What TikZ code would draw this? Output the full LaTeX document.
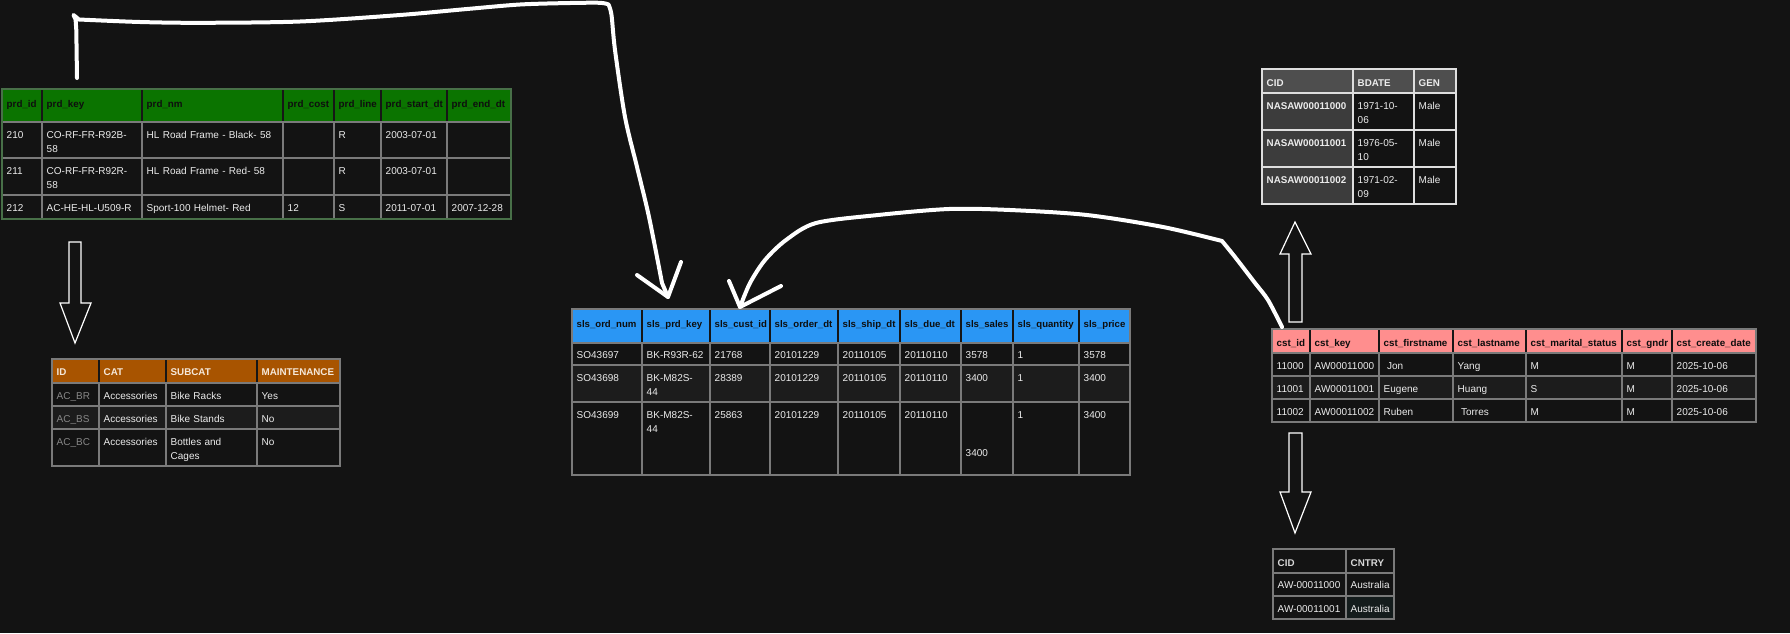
\documentclass[tikz,border=0pt]{standalone}
\usepackage{fontspec}
\setmainfont{Liberation Sans}
\usetikzlibrary{calc}
\hyphenpenalty=10000
\exhyphenpenalty=10000

\definecolor{bg}{RGB}{19,19,19}
\definecolor{gridc}{RGB}{122,122,122}
\definecolor{hsep}{RGB}{22,22,22}
\definecolor{txt}{RGB}{236,236,236}
\definecolor{dimtxt}{RGB}{135,135,135}
\definecolor{hdtxt}{RGB}{14,14,14}
\definecolor{prdgreen}{RGB}{11,116,0}
\definecolor{prdedge}{RGB}{72,112,72}
\definecolor{catorange}{RGB}{168,84,0}
\definecolor{cathd}{RGB}{245,232,218}
\definecolor{slsblue}{RGB}{42,150,244}
\definecolor{cstpink}{RGB}{255,142,142}
\definecolor{ciddark}{RGB}{78,78,78}
\definecolor{cidcol}{RGB}{60,60,60}
\definecolor{cidedge}{RGB}{222,222,222}
\definecolor{rowalt}{RGB}{28,28,28}
\definecolor{cntryhd}{RGB}{215,215,215}
\definecolor{cntryalt}{RGB}{20,28,28}

\tikzset{
  cellbase/.style={anchor=north west, inner xsep=4.5pt, inner ysep=0pt, align=left,
    font=\fontsize{10}{14}\selectfont, text=txt, fill=bg},
  hd/.style={font=\fontsize{9.8}{14}\selectfont\bfseries, text=hdtxt},
  gl/.style={draw=gridc, line width=1.8pt},
  hs/.style={draw=hsep, line width=2pt},
  cl/.style={draw=cidedge, line width=2pt},
  sk/.style={draw=white, line width=4pt, line cap=round, line join=round},
  hollow/.style={draw=white, line width=1.2pt, fill=bg, line join=miter},
}

% #1 style, #2 name, #3 x0, #4 y0, #5 x1, #6 y1, #7 baseline offset, #8 text
\newcommand\mycell[8]{%
  \pgfmathsetmacro\mycw{#5-#3-9}%
  \pgfmathsetmacro\mycd{#6-#4-#7}%
  \node[cellbase,#1,text width=\mycw pt,text height=#7pt,text depth=\mycd pt] (#2) at (#3,#4) {#8};%
}
% #1 column array, #2 style, #3 name prefix, #4 y0, #5 y1, #6 baseline offset, #7 cells
\newcommand\myrow[7]{%
  \foreach \ctext [count=\ci] in {#7} {%
    \pgfmathsetmacro\xa{#1[\ci-1]}%
    \pgfmathsetmacro\xb{#1[\ci]}%
    \mycell{#2}{#3\ci}{\xa}{#4}{\xb}{#5}{#6}{\ctext}%
  }%
}

\begin{document}
\begin{tikzpicture}[x=1pt,y=-1pt]
\useasboundingbox (0,0) rectangle (1790,633);
\fill[bg] (0,0) rectangle (1790,633);

% ---------------- product table ----------------
\def\Pcols{{2,42,142,283,334,381,447,511}}
\myrow{\Pcols}{hd,fill=prdgreen}{P-h}{89}{122}{18.5}{{prd\_id},{prd\_key},{prd\_nm},{prd\_cost},{prd\_line},{prd\_start\_dt},{prd\_end\_dt}}
\myrow{\Pcols}{}{P-a}{122}{158}{16.3}{{210},{CO-RF-FR-R92B-\\58},{HL Road Frame - Black- 58},{},{R},{2003-07-01},{}}
\myrow{\Pcols}{}{P-b}{158}{195}{16.3}{{211},{CO-RF-FR-R92R-\\58},{HL Road Frame - Red- 58},{},{R},{2003-07-01},{}}
\myrow{\Pcols}{}{P-c}{195}{219}{16.3}{{212},{AC-HE-HL-U509-R},{Sport-100 Helmet- Red},{12},{S},{2011-07-01},{2007-12-28}}
\foreach \x in {42,142,283,334,381,447} {\draw[hs] (\x,89) -- (\x,122); \draw[gl] (\x,122) -- (\x,219);}
\foreach \y in {122,158,195} \draw[gl] (2,\y) -- (511,\y);
\draw[draw=prdedge, line width=2pt] (2,89) rectangle (511,219);

% ---------------- category table ----------------
\def\Ccols{{52,99,166,257,340}}
\myrow{\Ccols}{hd,fill=catorange,text=cathd}{C-h}{359}{383}{16.5}{{ID},{CAT},{SUBCAT},{MAINTENANCE}}
\myrow{\Ccols}{}{C-a}{383}{406}{16.3}{{\color{dimtxt}AC\_BR},{Accessories},{Bike Racks},{Yes}}
\myrow{\Ccols}{fill=rowalt}{C-b}{406}{429}{16.3}{{\color{dimtxt}AC\_BS},{Accessories},{Bike Stands},{No}}
\myrow{\Ccols}{}{C-c}{429}{466}{16.3}{{\color{dimtxt}AC\_BC},{Accessories},{Bottles and\\Cages},{No}}
\foreach \x in {99,166,257} {\draw[hs] (\x,359) -- (\x,383); \draw[gl] (\x,383) -- (\x,466);}
\foreach \y in {383,406,429} \draw[gl] (52,\y) -- (340,\y);
\draw[gl] (52,359) rectangle (340,466);

% ---------------- sales table ----------------
\def\Scols{{572,642,710,770,838,900,961,1013,1079,1130}}
\myrow{\Scols}{hd,fill=slsblue,font=\fontsize{9.6}{14}\selectfont\bfseries}{S-h}{309}{343}{18}{{sls\_ord\_num},{sls\_prd\_key},{sls\_cust\_id},{sls\_order\_dt},{sls\_ship\_dt},{sls\_due\_dt},{sls\_sales},{sls\_quantity},{sls\_price}}
\myrow{\Scols}{}{S-a}{343}{365}{14.9}{{SO43697},{BK-R93R-62},{21768},{20101229},{20110105},{20110110},{3578},{1},{3578}}
\myrow{\Scols}{fill=rowalt}{S-b}{365}{402}{16.3}{{SO43698},{BK-M82S-\\44},{28389},{20101229},{20110105},{20110110},{3400},{1},{3400}}
\myrow{\Scols}{}{S-c}{402}{475}{15.9}{{SO43699},{BK-M82S-\\44},{25863},{20101229},{20110105},{20110110},{\mbox{}\\[24.4pt]3400},{1},{3400}}
\foreach \x in {642,710,770,838,900,961,1013,1079} {\draw[hs] (\x,309) -- (\x,343); \draw[gl] (\x,343) -- (\x,475);}
\foreach \y in {343,365,402} \draw[gl] (572,\y) -- (1130,\y);
\draw[gl] (572,309) rectangle (1130,475);

% ---------------- CID / BDATE / GEN table ----------------
\def\Dcols{{1262,1353,1414,1456}}
\myrow{\Dcols}{hd,fill=ciddark,text=txt}{D-h}{69}{93}{16.8}{{CID},{BDATE},{GEN}}
\mycell{fill=cidcol,font=\fontsize{9.8}{14}\selectfont\bfseries}{D-a1}{1262}{93}{1353}{130}{16.3}{NASAW00011000}
\mycell{}{D-a2}{1353}{93}{1414}{130}{16.3}{1971-10-\\06}
\mycell{}{D-a3}{1414}{93}{1456}{130}{16.3}{Male}
\mycell{fill=cidcol,font=\fontsize{9.8}{14}\selectfont\bfseries}{D-b1}{1262}{130}{1353}{167}{16.3}{NASAW00011001}
\mycell{}{D-b2}{1353}{130}{1414}{167}{16.3}{1976-05-\\10}
\mycell{}{D-b3}{1414}{130}{1456}{167}{16.3}{Male}
\mycell{fill=cidcol,font=\fontsize{9.8}{14}\selectfont\bfseries}{D-c1}{1262}{167}{1353}{204}{16.3}{NASAW00011002}
\mycell{}{D-c2}{1353}{167}{1414}{204}{16.3}{1971-02-\\09}
\mycell{}{D-c3}{1414}{167}{1456}{204}{16.3}{Male}
\foreach \x in {1353,1414} \draw[cl] (\x,69) -- (\x,204);
\foreach \y in {93,130,167} \draw[cl] (1262,\y) -- (1456,\y);
\draw[cl] (1262,69) rectangle (1456,204);

% ---------------- customer table ----------------
\def\Kcols{{1272,1310,1379,1453,1526,1622,1672,1756}}
\myrow{\Kcols}{hd,fill=cstpink}{K-h}{329}{353}{17.5}{{cst\_id},{cst\_key},{cst\_firstname},{cst\_lastname},{cst\_marital\_status},{cst\_gndr},{cst\_create\_date}}
\myrow{\Kcols}{}{K-a}{353}{376}{16.2}{{11000},{AW00011000},{\ Jon},{Yang},{M},{M},{2025-10-06}}
\myrow{\Kcols}{fill=rowalt}{K-b}{376}{399}{16.2}{{11001},{AW00011001},{Eugene},{Huang},{S},{M},{2025-10-06}}
\myrow{\Kcols}{}{K-c}{399}{422}{16.2}{{11002},{AW00011002},{Ruben},{\ Torres},{M},{M},{2025-10-06}}
\foreach \x in {1310,1379,1453,1526,1622,1672} {\draw[hs] (\x,329) -- (\x,353); \draw[gl] (\x,353) -- (\x,422);}
\foreach \y in {353,376,399} \draw[gl] (1272,\y) -- (1756,\y);
\draw[gl] (1272,329) rectangle (1756,422);

% ---------------- country table ----------------
\mycell{hd,text=cntryhd}{N-h1}{1273}{549}{1346}{573}{17.5}{CID}
\mycell{hd,text=cntryhd}{N-h2}{1346}{549}{1394}{573}{17.5}{CNTRY}
\mycell{}{N-a1}{1273}{573}{1346}{596}{15.6}{AW-00011000}
\mycell{}{N-a2}{1346}{573}{1394}{596}{15.6}{Australia}
\mycell{}{N-b1}{1273}{596}{1346}{619}{16.6}{AW-00011001}
\mycell{fill=cntryalt}{N-b2}{1346}{596}{1394}{619}{16.6}{Australia}
\draw[gl] (1346,549) -- (1346,619);
\foreach \y in {573,596} \draw[gl] (1273,\y) -- (1394,\y);
\draw[gl] (1273,549) rectangle (1394,619);

% ---------------- hollow block arrows ----------------
\draw[hollow] (69,242) -- (81,242) -- (81,303) -- (91,303) -- (75,343) -- (60,303) -- (69,303) -- cycle;
\draw[hollow] (1289,322) -- (1302,322) -- (1302,254) -- (1311,254) -- (1295,222) -- (1280,254) -- (1289,254) -- cycle;
\draw[hollow] (1289,433) -- (1302,433) -- (1302,492) -- (1311,492) -- (1295,533) -- (1280,492) -- (1289,492) -- cycle;

% ---------------- hand-drawn connectors ----------------
\coordinate (a1s) at ($(P-h2.north west)+(35,-11)$);
\coordinate (a1e) at ($(S-h2.north west)+(26,-12)$);
\draw[sk] (a1s) -- (76.3,30) -- (75.6,19.5) -- (73.5,15) -- (79,19.5)
  -- plot[smooth,tension=0.5] coordinates {(79,19.5) (140,22) (200,22.8) (300,21.5) (400,15) (467,9) (520,4.5) (570,3) (600,2.8) (608.5,4.5)}
  -- plot[smooth,tension=0.5] coordinates {(608.5,4.5) (611.5,15) (615,50) (625,117) (637,167) (649,217) (662,283)}
  -- (a1e);
\draw[sk] ($(a1e)+(-31,-22)$) -- (a1e) -- ($(a1e)+(13,-35)$);

\coordinate (a2s) at ($(K-h1.north west)+(10,-2)$);
\coordinate (a2e) at ($(S-h3.north west)+(30,-2)$);
\draw[sk] (a2s)
  -- plot[smooth,tension=0.5] coordinates {(1282,327) (1268,300) (1255,283) (1235,257) (1222,241)}
  -- plot[smooth,tension=0.5] coordinates {(1222,241) (1163,227) (1087,215) (1010,210) (949,209) (878,215) (816,223) (786,240) (765,260) (750,283) (740,307)}
  -- (a2e);
\draw[sk] ($(a2e)+(-11,-26)$) -- (a2e) -- ($(a2e)+(41,-21)$);
\end{tikzpicture}
\end{document}
